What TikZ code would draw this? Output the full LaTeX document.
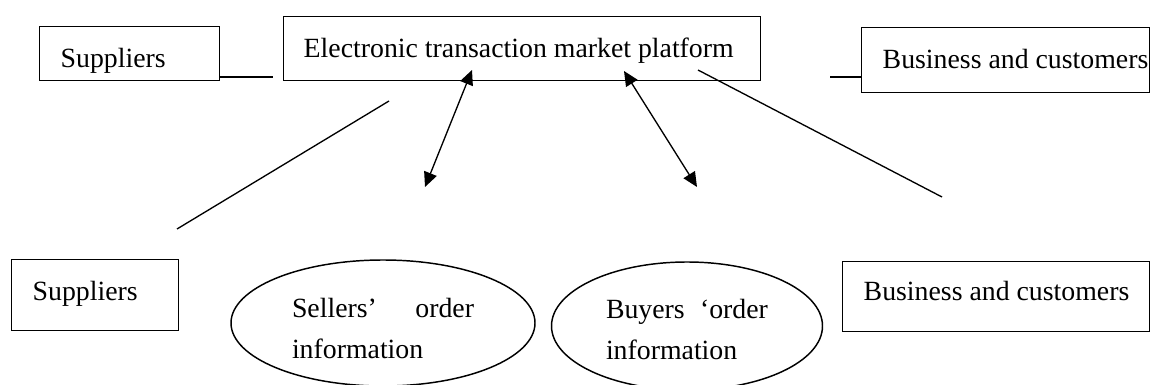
\documentclass[tikz,border=0pt]{standalone}
\usepackage{fontspec}
\setmainfont{Liberation Serif}
\usetikzlibrary{shapes,arrows.meta,positioning,calc}

\begin{document}
\begin{tikzpicture}[x=0.75pt,y=-0.75pt,
    font=\fontsize{20.85}{30.75}\selectfont,
    entity/.style={draw, rectangle, line width=1.1pt, anchor=north west, inner sep=0pt},
    orderinfo/.style={draw, ellipse, line width=1.1pt, inner sep=0pt, align=left},
    link/.style={line width=1pt},
    twoway/.style={line width=1pt, {Triangle[length=11pt,width=10pt]}-{Triangle[length=11pt,width=10pt]}}]
    \def\boxindent{15.75pt} % Space before the text in each box

    \useasboundingbox (0,0) rectangle (1150,385);

    % Top row
    \node[entity, text height=30.75pt, text depth=9.75pt] (supTop) at (39,26)
        {\makebox[135pt][l]{\hspace*{\boxindent}Suppliers}};
    \node[entity, text height=30.75pt, text depth=17.25pt] (platform) at (283,16)
        {\makebox[357.75pt][l]{\hspace*{15pt}Electronic transaction market platform}};
    \node[entity, text height=30.75pt, text depth=18pt] (bizTop) at (861,27)
        {\makebox[216pt][l]{\hspace*{\boxindent}Business and customers}};

    % Bottom row
    \node[entity, text height=30.75pt, text depth=22.5pt] (supBot) at (11,259)
        {\makebox[125.25pt][l]{\hspace*{\boxindent}Suppliers}};
    \node[orderinfo, minimum width=228pt, minimum height=94.5pt, text width=136.5pt,
        text height=21.75pt, text depth=30.75pt] (sellers) at (383,323)
        {Sellers’\hfill order\\information};
    \node[orderinfo, minimum width=203.25pt, minimum height=96pt, text width=121.5pt,
        text height=18.75pt, text depth=30.75pt] (buyers) at (687,326)
        {Buyers\hfill ‘order\\information};
    \node[entity, text height=29.25pt, text depth=23.25pt] (bizBot) at (842,261)
        {\makebox[230.25pt][l]{\hspace*{\boxindent}Business and customers}};

    % Free ends of the connectors
    \coordinate (supEnd) at (273,77);
    \coordinate (bizEnd) at (830,77);
    \coordinate (supTail) at (389,101);
    \coordinate (supHead) at (177,229);
    \coordinate (bizTail) at (698,70);
    \coordinate (bizHead) at (942,197);
    \coordinate (sellTop) at (472,70);
    \coordinate (sellTip) at (425,187);
    \coordinate (buyTop) at (624,71);
    \coordinate (buyTip) at (697,187);

    % Connectors
    \draw[link] (supEnd -| supTop.east) -- (supEnd);
    \draw[link] (bizEnd) -- (bizEnd -| bizTop.west);
    \draw[link] (supTail) -- (supHead);
    \draw[link] (bizTail) -- (bizHead);

    % Arrows
    \draw[twoway] (sellTop) -- (sellTip);
    \draw[twoway] (buyTop) -- (buyTip);

\end{tikzpicture}
\end{document}
